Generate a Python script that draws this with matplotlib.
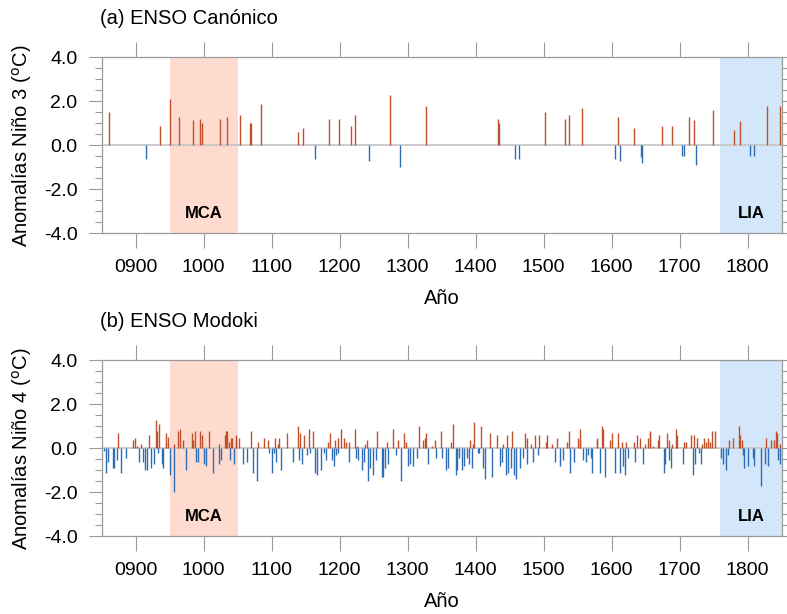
import matplotlib
matplotlib.use("Agg")
import matplotlib.pyplot as plt
import numpy as np
from matplotlib.ticker import MultipleLocator

plt.rcParams['font.family'] = ['Liberation Sans', 'DejaVu Sans']

# (a) ENSO Canónico - anomalías Niño 3
anos_a = [861, 915, 936, 950, 964, 985, 994, 998, 1024, 1034, 1053, 1068, 1069,
          1085, 1139, 1146, 1163, 1185, 1199, 1217, 1223, 1243, 1274, 1289, 1327,
          1433, 1434, 1458, 1464, 1502, 1531, 1537, 1556, 1605, 1610, 1612, 1633,
          1643, 1644, 1674, 1689, 1704, 1706, 1714, 1721, 1724, 1749, 1780, 1789,
          1803, 1810, 1829, 1848]
nino3 = [1.5, -0.6, 0.9, 2.1, 1.3, 1.15, 1.2, 1.0, 1.2, 1.3, 1.4, 1.0, 1.0,
         1.9, 0.6, 0.8, -0.6, 1.2, 1.2, 0.9, 1.4, -0.7, 2.3, -1.0, 1.8,
         1.2, 1.0, -0.6, -0.6, 1.5, 1.2, 1.4, 1.7, -0.6, 1.3, -0.7, 0.8,
         -0.55, -0.8, 0.9, 0.9, -0.5, -0.5, 1.3, 1.15, -0.9, 1.6, 0.7, 1.1,
         -0.5, -0.5, 1.8, 1.8]

# (b) ENSO Modoki - anomalías Niño 4
anos_b = [853, 856, 860, 866, 868, 872, 874, 879, 886, 896, 899, 902, 905, 908,
          911, 914, 916, 920, 922, 927, 930, 931, 933, 935, 938, 940, 944, 945,
          947, 951, 956, 957, 962, 965, 969, 974, 983, 985, 987, 989, 991, 994,
          997, 1001, 1004, 1008, 1013,
          1022, 1023, 1026, 1031, 1033, 1035, 1037, 1038, 1040, 1042, 1044, 1047,
          1048, 1052, 1058, 1063, 1070, 1073, 1078, 1080, 1088, 1094, 1096, 1100,
          1103, 1105, 1107, 1109, 1111, 1113, 1122, 1132, 1138, 1140, 1141, 1144,
          1148, 1152, 1155, 1157, 1161, 1164, 1167, 1173, 1177,
          1180, 1183, 1186, 1189, 1192, 1193, 1195, 1197, 1198, 1202, 1207, 1209,
          1213, 1214, 1222, 1224, 1225, 1227, 1233, 1236, 1237, 1240, 1242, 1244,
          1249, 1253, 1255, 1262, 1263, 1267, 1269, 1271, 1279, 1283, 1286, 1290,
          1295, 1298, 1300, 1303, 1308, 1313, 1316, 1322, 1325, 1327, 1330, 1336,
          1340,
          1342, 1349, 1350, 1357, 1360, 1364, 1366, 1371, 1372, 1376, 1380, 1383,
          1387, 1390, 1392, 1394, 1396, 1397, 1403, 1405, 1408, 1411, 1413, 1421,
          1424, 1431, 1436, 1439, 1440, 1445, 1446, 1447, 1452, 1453, 1457, 1459,
          1465, 1469, 1472, 1475, 1476, 1481, 1484, 1487, 1492, 1493,
          1504, 1505, 1512, 1517, 1520, 1524, 1528, 1535, 1538, 1539, 1541, 1545,
          1551, 1553, 1554, 1558, 1562, 1565, 1569, 1571, 1578, 1579, 1583, 1586,
          1587, 1590, 1598, 1600, 1605, 1609, 1612, 1615, 1616, 1619, 1621, 1624,
          1633, 1634, 1637, 1641, 1646, 1649, 1653, 1656, 1657, 1661,
          1668, 1669, 1677, 1678, 1681, 1684, 1685, 1687, 1689, 1694, 1696, 1705,
          1707, 1709, 1717, 1720, 1721, 1723, 1726, 1728, 1731, 1733, 1736, 1739,
          1742, 1745, 1748, 1752, 1761, 1764, 1768, 1771, 1773, 1778, 1787, 1789,
          1791, 1793, 1795, 1800, 1808, 1809, 1820, 1826, 1827, 1830, 1834, 1839,
          1842, 1843, 1844, 1847, 1848]
nino4 = [-0.1, -1.1, -0.6, -0.9, -0.9, -0.53, 0.7, -1.1, -0.42, 0.38, 0.48, 0.1, -0.6, 0.2,
         -0.6, -1.0, -1.0, 0.6, -0.9, -0.7, 1.29, 0.8, -0.2, 1.1, -0.7, -0.9, 0.7, 0.3,
         0.5, -1.2, 0.2, -2.0, 0.8, 0.88, 0.4, -1.0, 0.7, 0.38, 0.8, -0.6, -0.6, 0.8,
         0.6, -0.7, -0.8, 0.8, -1.1,
         -0.7, 0.2, -0.53, 0.6, 0.8, 0.8, 0.3, -0.53, 0.48, 0.48, -0.7, 0.6,
         0.38, 0.48, -0.7, -0.6, 0.8, -1.1, -1.5, 0.3, 0.48, 0.38, -0.2, -1.1,
         -0.2, 0.48, -0.6, 0.2, 0.48, -1.0, 0.7, -0.6, 1.0, -0.53, 0.7, -0.7,
         0.6, -0.3, 0.9, -0.2, 0.8, -1.1, -1.2, -1.0, -0.2,
         -0.53, 0.3, 0.68, -0.53, -0.8, 0.38, -0.3, -0.2, 0.48, 0.88, 0.48, 0.3,
         -0.6, 0.3, 0.88, -0.45, 0.1, -0.53, -1.0, -0.6, 0.2, 0.38, -1.5, -0.9,
         -1.2, -0.53, 0.8, -1.3, -1.3, -0.9, 0.3, -0.7, 0.88, -0.3, 0.38, -1.5,
         0.7, 0.3, -0.8, -0.7, -0.8, -0.42, 1.0, 0.38, 0.48, 0.7, -0.7, 0.1,
         0.38,
         -0.42, 0.8, -0.42, -1.0, -0.9, 0.3, 1.1, -1.2, -1.0, -0.42, -1.0, -0.8,
         -0.42, -0.7, 0.38, -0.9, 0.2, 1.2, -0.2, -0.2, 1.0, -0.9, -1.4, 0.7,
         -1.3, 0.6, -0.8, -0.6, 0.2, -1.2, 0.6, -1.1, -0.9, 0.8, -1.2, -1.4,
         -0.9, -0.42, 0.7, 0.48, -0.7, 0.2, -0.6, 0.6, -0.3, 0.6,
         0.3, 0.6, 0.2, -0.6, 0.48, -0.8, -0.52, 0.3, 0.8, -1.1, 0.08, -0.6,
         0.48, 0.88, 0.38, -0.52, -0.6, -0.3, -0.42, -1.1, 0.48, 0.38, -1.1, 1.0,
         0.88, -1.3, 0.38, 0.7, -1.1, 0.7, -1.1, 0.3, -0.8, -1.2, 0.3, -0.42,
         0.3, -0.6, 0.6, 0.48, -0.7, 0.2, 0.48, 0.8, 0.7, 0.1,
         0.38, 0.6, -1.1, -0.7, 0.7, 0.38, -0.52, -0.9, 0.2, 0.88, 0.6, -0.7,
         0.3, 0.3, 0.6, -1.2, 0.6, -0.7, 0.48, -0.2, -0.7, 0.2, 0.48, 0.3,
         0.48, 0.3, 0.8, 0.8, -0.42, -0.7, -1.0, -0.3, 0.38, 0.48, 1.0, 0.6,
         0.38, -0.3, -0.9, -0.8, -0.42, -0.8, -1.7, -0.7, 0.48, -0.8, 0.38, 0.38,
         0.8, 0.7, -0.52, -0.7, 0.2]

periodos = [("MCA", 950, 1050, '#FFDBCF'), ("LIA", 1760, 1850, '#D3E6FA')]
xticks = list(range(900, 1801, 100))
xlabels = ["%04d" % t for t in xticks]

rojo = '#C0502A'
azul = '#2E6DB4'
gris = '#9a9a9a'

fig = plt.figure(figsize=(7.87, 6.14), dpi=100)

paneles = [
    (anos_a, nino3, "(a) ENSO Canónico", "Anomalías Niño 3 ($^{\\rm o}$C)", 0.6200),
    (anos_b, nino4, "(b) ENSO Modoki", "Anomalías Niño 4 ($^{\\rm o}$C)", 0.1265),
]

for anos, vals, titulo, ylab, y0 in paneles:
    ax = fig.add_axes([0.1292, y0, 0.8640, 0.2866])
    for nombre, ini, fin, col in periodos:
        ax.axvspan(ini, fin, color=col, lw=0, zorder=0)
        ax.text((ini + fin) / 2, -3.1, nombre, ha='center', va='center',
                fontsize=12, fontweight='bold', zorder=5)
    ax.axhline(0, color='#c8c8c8', lw=1.3, zorder=1)
    anos = np.array(anos)
    vals = np.array(vals)
    colores = [rojo if v > 0 else azul for v in vals]
    # barras de un año: muy finas, se dibujan como líneas verticales
    ax.vlines(anos, 0, vals, colors=colores, lw=1.0, zorder=2)

    ax.set_xlim(850, 1850)
    ax.set_ylim(-4, 4)
    ax.set_xticks(xticks)
    ax.set_xticklabels(xlabels)
    ax.set_yticks([-4, -2, 0, 2, 4])
    ax.set_yticklabels(["-4.0", "-2.0", "0.0", "2.0", "4.0"])
    ax.yaxis.set_minor_locator(MultipleLocator(0.5))
    ax.tick_params(axis='x', which='major', direction='out', length=10.8, width=0.8,
                   color=gris, labelsize=14, pad=8, top=True, bottom=True)
    ax.tick_params(axis='y', which='major', direction='out', length=9.4, width=0.8,
                   color=gris, labelsize=14, pad=8, left=True, right=True)
    ax.tick_params(axis='y', which='minor', direction='out', length=5, width=0.8,
                   color=gris, left=True, right=True)
    for s in ax.spines.values():
        s.set_color(gris)
        s.set_linewidth(0.9)

    top_px = (1 - (y0 + 0.2866)) * 614
    fig.text(100 / 787, 1 - (top_px - 39) / 614, titulo, fontsize=14.5, va='center', ha='left')
    fig.text(22 / 787, 1 - (top_px + 88) / 614, ylab, fontsize=14.5, va='center', ha='center',
             rotation=90)
    fig.text(442 / 787, 1 - (top_px + 241) / 614, "Año", fontsize=14.5, va='center', ha='center')

fig.savefig("out.png", dpi=100)
